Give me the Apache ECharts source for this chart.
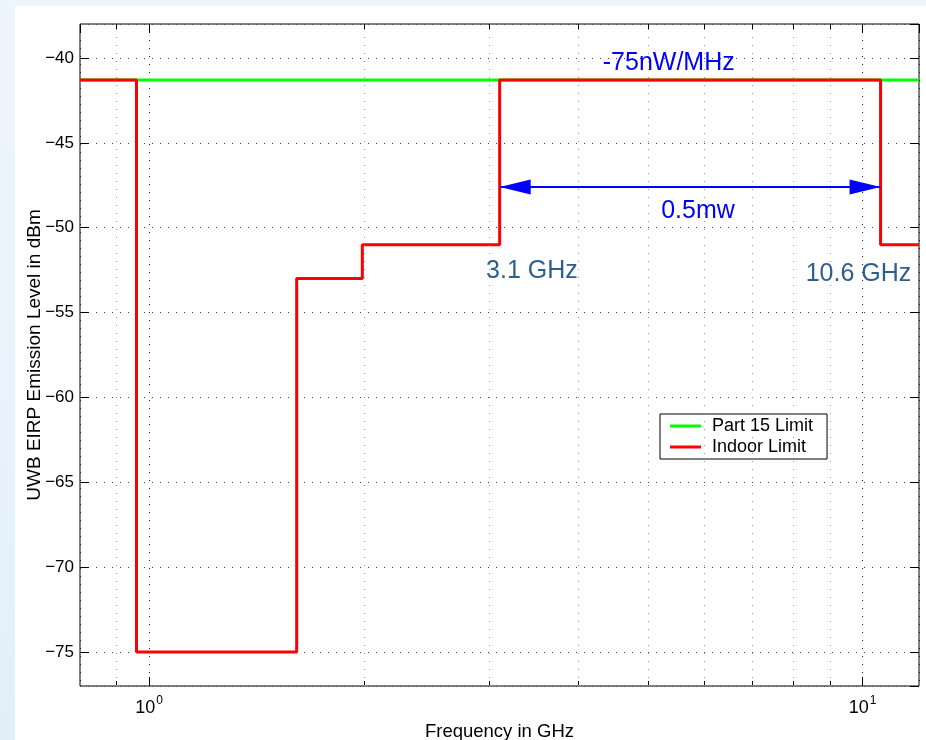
<!DOCTYPE html>
<html>
<head>
<meta charset="utf-8">
<script src="https://cdn.jsdelivr.net/npm/echarts@6/dist/echarts.min.js"></script>
<style>
  html, body { margin: 0; padding: 0; width: 926px; height: 740px; overflow: hidden; background: #eef6fd; }
  #side { position: absolute; left: 0; top: 0; width: 15px; height: 740px; background: linear-gradient(#eef6fd, #e2effb); }
  #chart { position: absolute; left: 15px; top: 6px; width: 911px; height: 734px; background: #ffffff; }
</style>
</head>
<body>
<div id="side"></div>
<div id="chart"></div>
<script>
// Axis ranges and ticks
const freqRange = [0.8, 12];            // GHz, log scale
const levelRange = [-77, -38];          // dBm
const majorFreqTicks = [1, 10];
const minorFreqTicks = [0.9, 2, 3, 4, 5, 6, 7, 8, 9];

// FCC Part 15 general emission limit
const part15Freq = [0.8, 12];
const part15Level = [-41.3, -41.3];

// UWB indoor mask: level holds from each band edge up to the next
const indoorEdges = [0.8, 0.96, 1.61, 1.99, 3.1, 10.6, 12];
const indoorLevel = [-41.3, -75, -53, -51, -41.3, -51, -51];

// UWB band and annotation text
const uwbBand = [3.1, 10.6];
const bandArrowLevel = -47.6;
const noteTexts = ['-75nW/MHz', '0.5mw', '3.1 GHz', '10.6 GHz'];

const FONT = '"Liberation Sans", Arial, Helvetica, sans-serif';

const chart = echarts.init(document.getElementById('chart'), null, { renderer: 'canvas' });

const isDecade = v => Math.abs(Math.log10(v) - Math.round(Math.log10(v))) < 1e-6;

function freqAxis(extra) {
  return Object.assign({
    type: 'log',
    logBase: 10,
    min: freqRange[0],
    max: freqRange[1],
    gridIndex: 0,
    axisLine: { show: false },
    axisLabel: { show: false },
    splitLine: { show: false },
    axisTick: { show: false }
  }, extra);
}

function levelAxis(extra) {
  return Object.assign({
    type: 'value',
    min: levelRange[0],
    max: levelRange[1],
    splitNumber: 8,
    axisLine: { show: false },
    axisLabel: { show: false },
    splitLine: { show: false },
    axisTick: { show: false }
  }, extra);
}

const tickStyle = { color: '#000', width: 1 };

const option = {
  animation: false,
  textStyle: { fontFamily: FONT },
  grid: {
    left: 65, right: 7, top: 18, bottom: 54,
    outerBoundsMode: 'none',
    containLabel: false,
    show: true, borderColor: '#000', borderWidth: 1, backgroundColor: '#fff'
  },
  xAxis: [
    freqAxis({
      position: 'bottom',
      name: 'Frequency in GHz',
      nameLocation: 'middle',
      nameGap: 36,
      nameMoveOverlap: false,
      nameTextStyle: { fontSize: 18.5, color: '#000', fontFamily: FONT },
      axisTick: { show: true, inside: true, length: 9, lineStyle: tickStyle },
      axisLabel: {
        show: true,
        margin: 9,
        showMinLabel: false,
        showMaxLabel: false,
        formatter: v => (isDecade(v) && v >= freqRange[0] && v <= freqRange[1])
          ? '{b|10}{s|' + Math.round(Math.log10(v)) + '}' : '',
        rich: {
          b: { fontSize: 18, color: '#000', fontFamily: FONT, lineHeight: 22, verticalAlign: 'bottom' },
          s: { fontSize: 12, color: '#000', fontFamily: FONT, verticalAlign: 'top', padding: [0, 0, 0, 1] }
        }
      },
      splitLine: { show: true, lineStyle: { color: '#222', type: [1, 7], width: 1 } }
    }),
    freqAxis({ position: 'bottom',
      axisTick: { show: true, inside: true, length: 5, customValues: minorFreqTicks, lineStyle: tickStyle } }),
    freqAxis({ position: 'top',
      axisTick: { show: true, inside: true, length: 9, lineStyle: tickStyle } }),
    freqAxis({ position: 'top',
      axisTick: { show: true, inside: true, length: 5, customValues: minorFreqTicks, lineStyle: tickStyle } })
  ],
  yAxis: [
    levelAxis({
      position: 'left',
      name: 'UWB EIRP Emission Level in dBm',
      nameLocation: 'middle',
      nameGap: 36,
      nameMoveOverlap: false,
      nameTextStyle: { fontSize: 19, color: '#000', fontFamily: FONT },
      axisTick: { show: true, inside: true, length: 9, lineStyle: tickStyle },
      axisLabel: {
        show: true, margin: 6, fontSize: 17, color: '#000', fontFamily: FONT,
        showMinLabel: false, showMaxLabel: false,
        formatter: v => (Math.abs(v % 5) < 1e-9 ? String(v).replace('-', '\u2212') : '')
      },
      splitLine: { show: true, lineStyle: { color: '#444', type: [1, 7], width: 1 } }
    }),
    levelAxis({
      position: 'right',
      axisTick: { show: true, inside: true, length: 9, lineStyle: tickStyle }
    })
  ],
  legend: {
    orient: 'vertical',
    left: 645, top: 408,
    backgroundColor: '#fff',
    borderColor: '#000', borderWidth: 1,
    padding: [3, 14, 3, 10],
    itemGap: 3,
    itemWidth: 31, itemHeight: 3,
    icon: 'rect',
    textStyle: { fontSize: 18, color: '#000', fontFamily: FONT, padding: [0, 0, 0, 6] },
    data: ['Part 15 Limit', 'Indoor Limit']
  },
  series: [
    {
      // minor frequency grid
      name: 'grid',
      type: 'line',
      data: [],
      z: 1,
      silent: true,
      markLine: {
        silent: true,
        symbol: 'none',
        animation: false,
        label: { show: false },
        lineStyle: { color: '#9a9a9a', type: [1, 7], width: 1 },
        data: minorFreqTicks.map(v => ({ xAxis: v }))
      }
    },
    {
      name: 'Part 15 Limit',
      type: 'line',
      z: 3,
      showSymbol: false,
      symbol: 'none',
      color: '#00ff00',
      lineStyle: { color: '#00ff00', width: 3 },
      data: part15Freq.map((f, i) => [f, part15Level[i]])
    },
    {
      name: 'Indoor Limit',
      type: 'line',
      z: 4,
      step: 'end',
      showSymbol: false,
      symbol: 'none',
      color: '#ff0000',
      lineStyle: { color: '#ff0000', width: 3 },
      data: indoorEdges.map((f, i) => [f, indoorLevel[i]]),
      markLine: {
        silent: true,
        animation: false,
        symbol: ['triangle', 'triangle'],
        symbolSize: [15, 31],
        // pull each arrowhead back so its tip lands on the band edge
        symbolOffset: [[0, '50%'], [0, '50%']],
        label: { show: false },
        lineStyle: { color: '#0000ff', width: 2, type: 'solid' },
        itemStyle: { color: '#0000ff' },
        data: [[
          { coord: [uwbBand[0], bandArrowLevel] },
          { coord: [uwbBand[1], bandArrowLevel] }
        ]]
      },
      markPoint: {
        silent: true,
        animation: false,
        symbol: 'circle',
        symbolSize: 0,
        itemStyle: { color: 'transparent' },
        data: [
          { coord: [5.35, -40.3], value: noteTexts[0],
            label: { show: true, position: 'inside', formatter: noteTexts[0], fontSize: 25, color: '#0000ff', fontFamily: FONT } },
          { coord: [5.88, -49.0], value: noteTexts[1],
            label: { show: true, position: 'inside', formatter: noteTexts[1], fontSize: 25, color: '#0000ff', fontFamily: FONT } },
          { coord: [3.44, -52.55], value: noteTexts[2],
            label: { show: true, position: 'inside', formatter: noteTexts[2], fontSize: 25, color: '#2e5e8e', fontFamily: FONT } },
          { coord: [9.87, -52.75], value: noteTexts[3],
            label: { show: true, position: 'inside', formatter: noteTexts[3], fontSize: 25, color: '#2e5e8e', fontFamily: FONT } }
        ]
      }
    }
  ]
};

chart.setOption(option);
</script>
</body>
</html>
